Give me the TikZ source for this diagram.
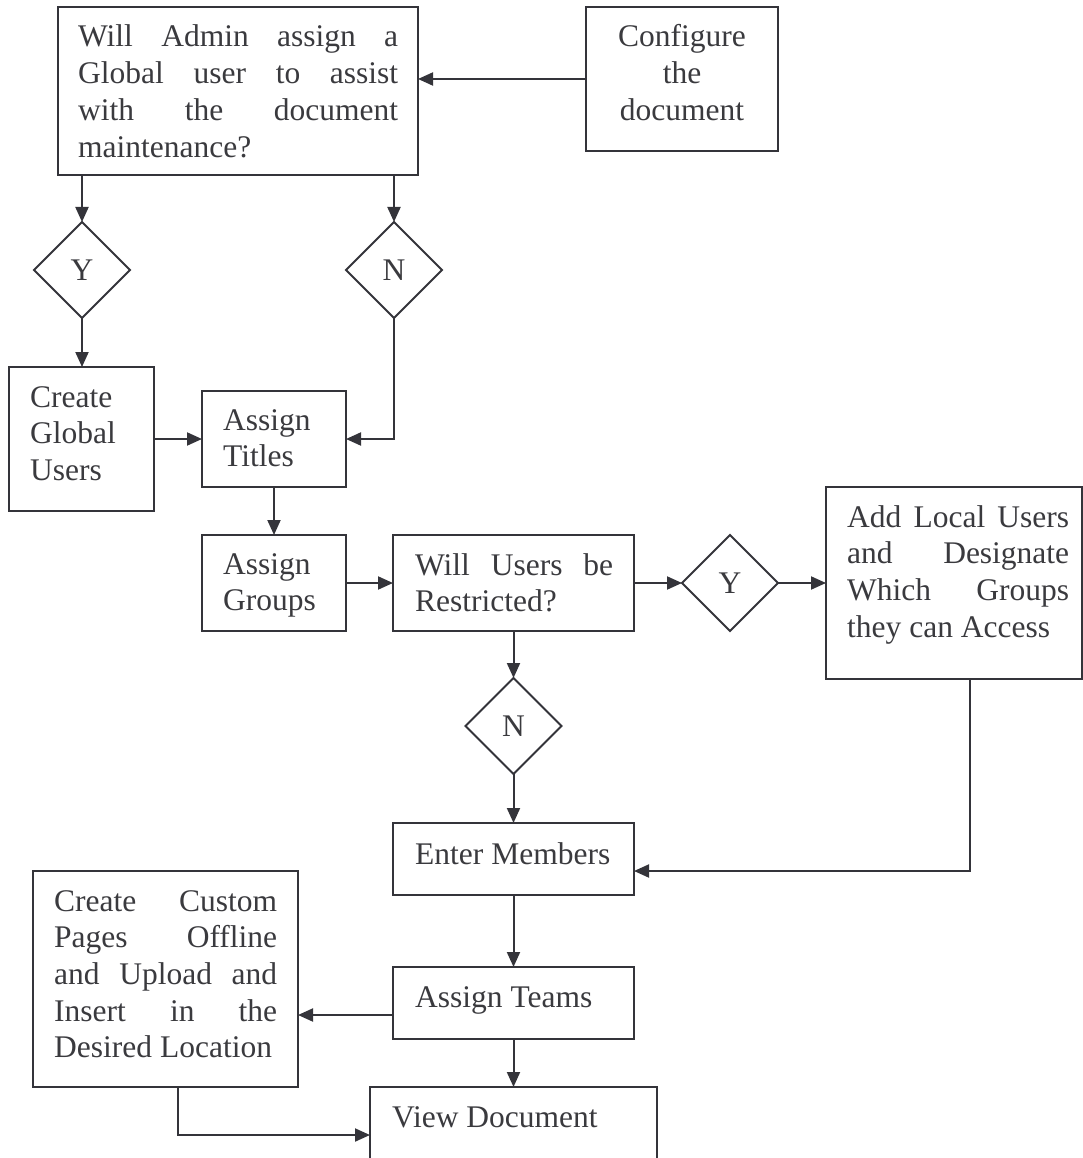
\documentclass[tikz,border=0pt]{standalone}
\usepackage{fontspec}
\setmainfont{Liberation Serif}
\usetikzlibrary{shapes.geometric,arrows.meta}
\definecolor{ink}{RGB}{52,52,58}
\definecolor{txt}{RGB}{58,58,62}
\newcommand\figfont{\fontsize{31.5}{36.7}\selectfont}
\newcommand\jl[2]{\makebox[#1pt][s]{#2}}
\begin{document}
\begin{tikzpicture}[x=1pt,y=-1pt,
  box/.style={draw=ink,line width=2pt,rectangle,inner sep=0pt,outer sep=0pt,anchor=north west},
  dia/.style={draw=ink,line width=2pt,diamond,aspect=1,inner sep=0pt,outer sep=0pt,
              minimum width=96pt,minimum height=96pt,font=\figfont,text=txt},
  lbl/.style={anchor=base west,inner sep=0pt,font=\figfont,text=txt},
  clbl/.style={anchor=base,inner sep=0pt,font=\figfont,text=txt},
  arr/.style={draw=ink,line width=2pt,-{Triangle[length=15pt,width=13pt]}},
]
\useasboundingbox (0,0) rectangle (1083,1158);
\clip (0,0) rectangle (1083,1158);

% boxes
\node[box,minimum width=360pt,minimum height=168pt] (A)   at (58,7) {};
\node[box,minimum width=192pt,minimum height=144pt] (CF)  at (586,7) {};
\node[dia] (Yd) at (82,270) {Y};
\node[dia] (Nd) at (394,270) {N};
\node[box,minimum width=145pt,minimum height=144pt] (CGU) at (9,367) {};
\node[box,minimum width=144pt,minimum height=96pt]  (AT)  at (202,391) {};
\node[box,minimum width=144pt,minimum height=96pt]  (AG)  at (202,535) {};
\node[box,minimum width=241pt,minimum height=96pt]  (WU)  at (393,535) {};
\node[dia] (Y2) at (730,583) {Y};
\node[box,minimum width=256pt,minimum height=192pt] (ALU) at (826,487) {};
\node[dia] (N2) at (513.5,726) {N};
\node[box,minimum width=241pt,minimum height=72pt]  (EM)  at (393,823) {};
\node[box,minimum width=241pt,minimum height=72pt]  (ATm) at (393,967) {};
\node[box,minimum width=265pt,minimum height=216pt] (CCP) at (33,871) {};
\node[box,minimum width=287pt,minimum height=96pt]  (VD)  at (370,1087) {};

% texts
\node[lbl] (tA) at (78,47) {\begin{tabular}[t]{@{}l@{}}
  \jl{320}{Will Admin assign a}\\
  \jl{320}{Global user to assist}\\
  \jl{320}{with the document}\\
  maintenance?\end{tabular}};
\node[clbl] (tCF) at (682,47) {\begin{tabular}[t]{@{}c@{}}Configure\\the\\document\end{tabular}};
\node[lbl] (tCGU) at (30,407) {\begin{tabular}[t]{@{}l@{}}Create\\Global\\Users\end{tabular}};
\node[lbl] (tAT) at (223,430) {\begin{tabular}[t]{@{}l@{}}Assign\\Titles\end{tabular}};
\node[lbl] (tAG) at (223,574) {\begin{tabular}[t]{@{}l@{}}Assign\\Groups\end{tabular}};
\node[lbl] (tWU) at (415,575) {\begin{tabular}[t]{@{}l@{}}
  \jl{198}{Will Users be}\\
  Restricted?\end{tabular}};
\node[lbl] (tALU) at (847,527) {\begin{tabular}[t]{@{}l@{}}
  \jl{222}{Add Local Users}\\
  \jl{222}{and Designate}\\
  \jl{222}{Which Groups}\\
  they can Access\end{tabular}};
\node[lbl] (tEM) at (415,864) {Enter Members};
\node[lbl] (tATm) at (415,1007) {Assign Teams};
\node[lbl] (tVD) at (392,1127) {View Document};
\node[lbl] (tCCP) at (54,911) {\begin{tabular}[t]{@{}l@{}}
  \jl{223}{Create Custom}\\
  \jl{223}{Pages Offline}\\
  \jl{223}{and Upload and}\\
  \jl{223}{Insert in the}\\
  Desired Location\end{tabular}};

% connectors
\draw[arr] (CF.west) -- (CF.west -| A.east);
\draw[arr] (Yd |- A.south) -- (Yd.north);
\draw[arr] (Nd |- A.south) -- (Nd.north);
\draw[arr] (Yd.south) -- (Yd.south |- CGU.north);
\draw[arr] (CGU.east) -- (AT.west);
\draw[arr] (Nd.south) |- (AT.east);
\draw[arr] (AT.south) -- (AG.north);
\draw[arr] (AG.east) -- (WU.west);
\draw[arr] (WU.east) -- (Y2.west);
\draw[arr] (Y2.east) -- (ALU.west);
\draw[arr] (N2 |- WU.south) -- (N2.north);
\draw[arr] (N2.south) -- (N2.south |- EM.north);
\draw[arr] ([xshift=16pt]ALU.south) |- ([yshift=-12pt]EM.east);
\draw[arr] (EM.south) -- (ATm.north);
\draw[arr] ([yshift=-12pt]ATm.west) -- ([yshift=-12pt]ATm.west -| CCP.east);
\draw[arr] (ATm.south) -- (VD.north);
\draw[arr] ([xshift=12.5pt]CCP.south) |- (VD.west);
\end{tikzpicture}
\end{document}
